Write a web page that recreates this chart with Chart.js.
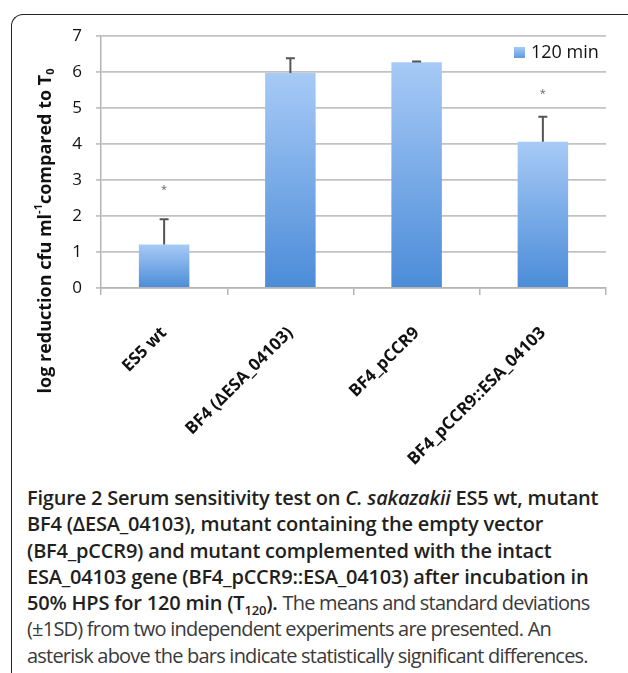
<!DOCTYPE html>
<html>
<head>
<meta charset="utf-8">
<script src="https://cdn.jsdelivr.net/npm/chart.js@4.4.1/dist/chart.umd.min.js"></script>
<style>
  body { margin: 0; background: #fff; }
  #wrap { position: relative; width: 628px; height: 673px; overflow: hidden; }
  #frame { position: absolute; left: 11px; top: 14px; width: 700px; height: 700px;
    border-left: 1.5px solid #222; border-top: 1.5px solid #222; border-top-left-radius: 12px; }
  #productChart { position: absolute; left: 0; top: 0; }
  #caption { position: absolute; left: 27px; top: 485px; font-family: 'Open Sans', sans-serif;
    font-size: 20px; line-height: 26.3px; color: #3a3a3a; white-space: nowrap; }
  #caption b { color: #231f20; font-weight: 600; }
  #caption sub { font-size: 13px; line-height: 0; }
</style>
</head>
<body>
<div id="wrap">
  <div id="frame"></div>
  <canvas id="productChart" width="628" height="480"></canvas>
  <div id="caption">
    <span id="line1"><b>Figure 2 Serum sensitivity test on <i>C. sakazakii</i> ES5 wt, mutant</b></span><br>
    <b>BF4 (ΔESA_04103), mutant containing the empty vector</b><br>
    <b>(BF4_pCCR9) and mutant complemented with the intact</b><br>
    <b>ESA_04103 gene (BF4_pCCR9::ESA_04103) after incubation in</b><br>
    <b>50% HPS for 120 min (T<sub>120</sub>).</b> <span class="r">The means and standard deviations</span><br>
    <span class="r">(±1SD) from two independent experiments are presented. An</span><br>
    <span class="r" id="line7">asterisk above the bars indicate statistically significant differences.</span>
  </div>
</div>
<script>
var categories = ['ES5 wt', 'BF4 (ΔESA_04103)', 'BF4_pCCR9', 'BF4_pCCR9::ESA_04103'];
var means = [1.21, 5.97, 6.27, 4.06];
var sdUpper = [0.70, 0.41, 0.02, 0.70];
var asteriskAt = [2.78, null, null, 5.45];
var seriesName = '120 min';

// caption tracking: bold lines and light lines are spaced separately
var line1 = document.getElementById('line1');
var ls = (571 - line1.getBoundingClientRect().width) / line1.textContent.length;
document.getElementById('caption').style.letterSpacing = ls.toFixed(2) + 'px';
var line7 = document.getElementById('line7');
var ls7 = ls + (561 - line7.getBoundingClientRect().width) / line7.textContent.length;
document.querySelectorAll('#caption .r').forEach(function(el) { el.style.letterSpacing = ls7.toFixed(2) + 'px'; });

function barGradient(context) {
  var chart = context.chart;
  if (!chart.chartArea || context.type !== 'data') return '#7aaee9';
  var y = chart.scales.y;
  var top = y.getPixelForValue(context.parsed.y);
  var bottom = y.getPixelForValue(0);
  var g = chart.ctx.createLinearGradient(0, top, 0, bottom);
  g.addColorStop(0, '#a7caf6');
  g.addColorStop(1, '#4b8cd8');
  return g;
}

var extras = {
  id: 'extras',
  afterDatasetsDraw: function(chart) {
    var ctx = chart.ctx;
    var y = chart.scales.y;
    var meta = chart.getDatasetMeta(0);
    ctx.save();
    // error bars (upper half only)
    ctx.strokeStyle = '#555';
    ctx.lineWidth = 2;
    meta.data.forEach(function(bar, i) {
      var y0 = y.getPixelForValue(means[i]);
      var y1 = y.getPixelForValue(means[i] + sdUpper[i]);
      ctx.beginPath();
      ctx.moveTo(bar.x, y0);
      ctx.lineTo(bar.x, y1);
      ctx.moveTo(bar.x - 4.5, y1);
      ctx.lineTo(bar.x + 4.5, y1);
      ctx.stroke();
      if (asteriskAt[i] != null) {
        ctx.fillStyle = '#666';
        ctx.font = '11px "Open Sans"';
        ctx.textAlign = 'center';
        ctx.textBaseline = 'middle';
        ctx.fillText('*', bar.x, y.getPixelForValue(asteriskAt[i]) + 2);
      }
    });
    // legend
    var lx = chart.chartArea.right - 92;
    var g = ctx.createLinearGradient(0, 47, 0, 58);
    g.addColorStop(0, '#a7caf6');
    g.addColorStop(1, '#5f9be0');
    ctx.fillStyle = g;
    ctx.fillRect(lx, 47, 11, 11);
    ctx.fillStyle = '#111';
    ctx.font = '18px "Open Sans"';
    ctx.textAlign = 'left';
    ctx.textBaseline = 'middle';
    ctx.fillText(seriesName, lx + 17, 53);
    // y axis title
    ctx.translate(46, 231);
    ctx.rotate(-Math.PI / 2);
    var parts = [
      ['log reduction cfu ml', 18, 0],
      ['-1', 11, -7],
      ['compared to T', 18, 0],
      ['0', 11, 5]
    ];
    var total = 0;
    parts.forEach(function(p) {
      ctx.font = 'bold ' + p[1] + 'px "Open Sans"';
      total += ctx.measureText(p[0]).width;
    });
    var x = -total / 2;
    ctx.fillStyle = '#111';
    ctx.textAlign = 'left';
    parts.forEach(function(p) {
      ctx.font = 'bold ' + p[1] + 'px "Open Sans"';
      ctx.fillText(p[0], x, p[2]);
      x += ctx.measureText(p[0]).width;
    });
    ctx.restore();
  }
};

var ctx = document.getElementById('productChart').getContext('2d');
var chart = new Chart(ctx, {
  type: 'bar',
  data: {
    labels: categories,
    datasets: [{
      label: seriesName,
      data: means,
      backgroundColor: barGradient,
      borderWidth: 0,
      categoryPercentage: 1,
      barPercentage: 0.4
    }]
  },
  options: {
    responsive: false,
    animation: false,
    layout: { padding: { left: 0, right: 22, top: 36, bottom: 0 } },
    plugins: { legend: { display: false }, tooltip: { enabled: false } },
    scales: {
      x: {
        afterFit: function(scale) { scale.height = 192; },
        grid: { offset: true, drawOnChartArea: false, tickLength: 7, color: '#b5b5b5', lineWidth: 1.5 },
        border: { color: '#b5b5b5', width: 1.5 },
        ticks: {
          minRotation: 45, maxRotation: 45, autoSkip: false, padding: 28,
          color: '#111', font: { family: 'Open Sans', size: 17, weight: 'bold' }
        }
      },
      y: {
        min: 0, max: 7,
        afterFit: function(scale) { scale.width = 101; },
        grid: { tickLength: 5, color: '#c2c2c2', lineWidth: 1.8 },
        border: { color: '#b5b5b5', width: 1.5 },
        ticks: {
          stepSize: 1, padding: 14, color: '#111',
          font: { family: 'Open Sans', size: 17 }
        }
      }
    }
  },
  plugins: [extras]
});
</script>
</body>
</html>
